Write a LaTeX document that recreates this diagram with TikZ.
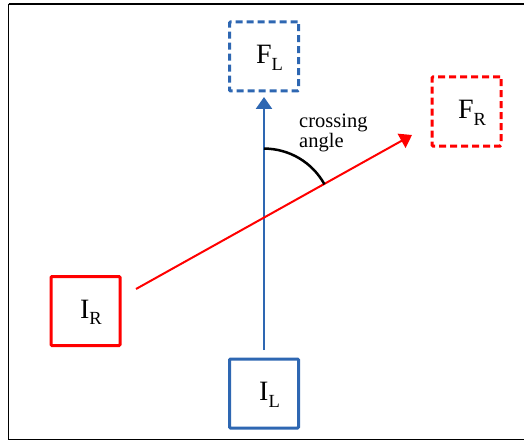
\documentclass[tikz,border=0pt]{standalone}
\usepackage{fontspec}
\setmainfont{Liberation Serif}
\usetikzlibrary{arrows.meta,calc}
\definecolor{lblue}{RGB}{46,103,178}
\definecolor{rred}{RGB}{255,0,0}
\newcommand{\lowsub}[1]{\raisebox{-6.5pt}{\fontsize{18.5}{18.5}\selectfont #1}}
\begin{document}
\begin{tikzpicture}[x=1pt,y=-1pt,>={Triangle[length=12pt,width=16pt]},
  box/.style={line width=3pt,rounded corners=1pt,minimum width=69pt,minimum height=69pt,inner sep=0pt,
    text height=18.5pt,text depth=4pt,font=\fontsize{28}{32}\selectfont,execute at begin node={\hspace*{11pt}}},
  dbox/.style={box,dash pattern=on 7pt off 4pt}]
 \useasboundingbox (0,0) rectangle (524,441);
 \draw[line width=1.8pt] (8.5,4) -- (535,4) (8.5,4) -- (8.5,439.5) -- (535,439.5);
 \node[box,draw=lblue] (il) at (264,393.5) {I\lowsub{L}};
 \node[dbox,draw=lblue] (fl) at (264,56.5) {F\lowsub{L}};
 \node[box,draw=rred] (ir) at (85.5,311) {I\lowsub{R}};
 \node[dbox,draw=rred] (fr) at (466.5,111.5) {F\lowsub{R}};
 \coordinate (ilt) at (264,350);
 \coordinate (flb) at (264,97);
 \coordinate (irr) at (136,289);
 \coordinate (frl) at (412,135);
 \draw[->,lblue,line width=2.5pt] (ilt) -- (flb);
 \draw[->,rred,line width=2pt] (irr) -- (frl);
 % crossing angle
 \coordinate (x) at (intersection of ilt--flb and irr--frl);
 \draw[line width=2.5pt] ($(x)+(0,-69)$) arc[start angle=-90,end angle=-28.8,radius=69];
 \node[anchor=north west,align=left,inner sep=0pt,font=\fontsize{20.5}{20}\selectfont] (lbl) at (299,114) {crossing\\angle};
\end{tikzpicture}
\end{document}
